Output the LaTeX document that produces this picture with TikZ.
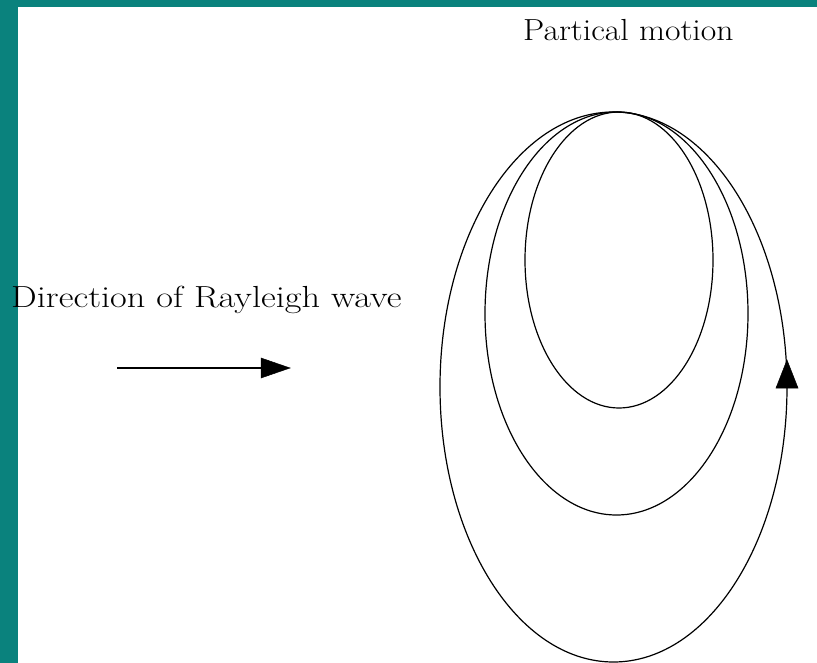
\documentclass[tikz,border=0pt]{standalone}
\definecolor{frameteal}{RGB}{10,130,125}
\tikzset{
  orbit/.style={draw=black, line width=1.2pt},
  head/.style={fill=black, draw=black, line width=0.5pt, line join=miter},
  label/.style={font=\fontsize{30.5}{34}\selectfont, inner sep=0pt, anchor=base west}
}
\begin{document}
\begin{tikzpicture}[x=1pt,y=-1pt]
\useasboundingbox (0,0) rectangle (817,663);
\fill[white] (0,0) rectangle (817,663);
% teal frame
\fill[frameteal] (0,0) rectangle (18,663);
\fill[frameteal] (0,0) rectangle (817,7);
% labels
\node[label, xscale=1.105] (pm) at (523,41) {Partical motion};
\node[label, xscale=1.19] (dir) at (11,307) {Direction of Rayleigh wave};
% orbits
\draw[orbit] (619,260) ellipse [x radius=94, y radius=148];
\draw[orbit] (616.5,313.5) ellipse [x radius=131.5, y radius=201.5];
\draw[orbit] (613.5,387) ellipse [x radius=173.5, y radius=275];
% arrow on outer orbit
\coordinate (ot) at (787,360);
\coordinate (ol) at (776,388);
\coordinate (or) at (798,388);
\filldraw[head] (ot) -- (ol) -- (or) -- cycle;
% direction arrow
\coordinate (as) at (117,368);
\coordinate (ae) at (263,368);
\coordinate (at) at (290,368);
\coordinate (au) at (261,358);
\coordinate (ad) at (261,378);
\draw[line width=2.4pt] (as) -- (ae);
\filldraw[head] (au) -- (at) -- (ad) -- cycle;
\end{tikzpicture}
\end{document}
